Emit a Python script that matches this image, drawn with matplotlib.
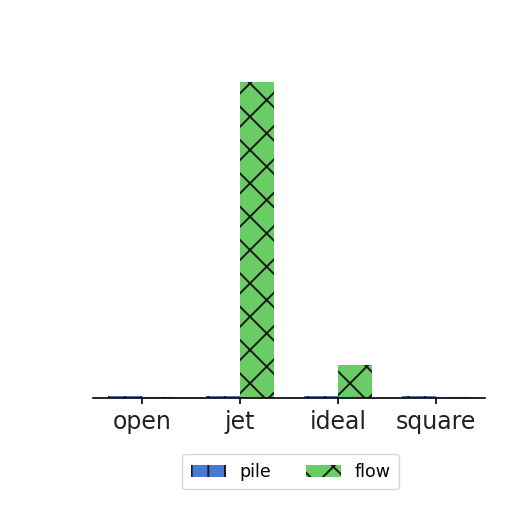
import matplotlib
matplotlib.use("Agg")
import matplotlib.pyplot as plt
import numpy as np

categories = ["open", "jet", "ideal", "square"]
pile = [0.6, 0.7, 0.6, 0.5]
flow = [0.4, 100, 10.5, 0.4]

plt.rcParams['font.family'] = ['DejaVu Sans']
plt.rcParams['hatch.linewidth'] = 1.4

fig = plt.figure(figsize=(5.12, 5.12), dpi=100)
ax = fig.add_axes([93/512, 1 - 398/512, 392/512, (398 - 82)/512])

x = np.arange(len(categories))
w = 0.35
ax.bar(x - w/2, pile, w, color="#4878D0", edgecolor="#1a1a1a", linewidth=0,
       hatch="|", label="pile")
ax.bar(x + w/2, flow, w, color="#6ACC64", edgecolor="#1a1a1a", linewidth=0,
       hatch="x", label="flow")

ax.set_xlim(-0.5, len(categories) - 0.5)
ax.set_ylim(0, max(flow))
ax.set_xticks(x)
ax.set_xticklabels(categories, fontsize=17, color="#222222")
ax.tick_params(axis="x", length=4.5, width=1.2, pad=4)
ax.set_yticks([])
for s in ["left", "right", "top"]:
    ax.spines[s].set_visible(False)
ax.spines["bottom"].set_linewidth(1.2)

ax.legend(loc="upper center", bbox_to_anchor=(0.505, -0.15), ncol=2,
          fontsize=12.5, frameon=True, fancybox=True, borderpad=0.5)

fig.savefig("out.png", dpi=100)
